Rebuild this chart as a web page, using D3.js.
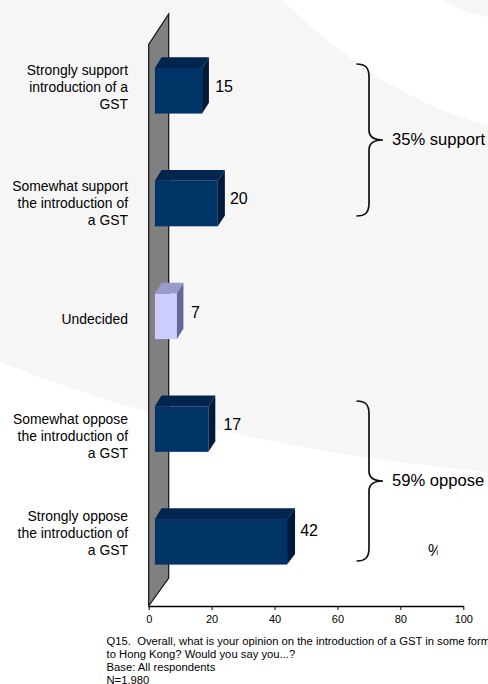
<!DOCTYPE html>
<html><head><meta charset="utf-8">
<script src="https://cdn.jsdelivr.net/npm/d3@7"></script>
<style>html,body{margin:0;padding:0;background:#fff;overflow:hidden}svg{display:block}text{font-family:"Liberation Sans",Arial,sans-serif;fill:#000;white-space:pre}</style>
</head><body><svg id="c" width="488" height="684"></svg>
<script>
const categories = [
  ["Strongly support","introduction of a","GST"],
  ["Somewhat support","the introduction of","a GST"],
  ["Undecided"],
  ["Somewhat oppose","the introduction of","a GST"],
  ["Strongly oppose","the introduction of","a GST"]
];
const values = [15, 20, 7, 17, 42];
const highlight = [false, false, true, false, false];
const tickValues = [0, 20, 40, 60, 80, 100];
const footnotes = [
  "Q15.  Overall, what is your opinion on the introduction of a GST in some form",
  "to Hong Kong? Would you say you...?",
  "Base: All respondents",
  "N=1,980"
];
const bracketLabels = ["35% support", "59% oppose"];

const svg = d3.select("#c");
const bg = "#f6f6f6";
svg.append("path").attr("fill", bg)
  .attr("d", "M0,0 L282,0 C330,46 400,103 488,125 L488,472 C340,458 170,430 0,362 Z");
svg.append("path").attr("fill", bg)
  .attr("d", "M443,0 C457,9 472,14 488,17 L488,0 Z");

const x = d3.scaleLinear().domain([0, 100]).range([148.7, 463.3]);
const axisY = 606, wallDx = 20, wallDy = -28, wallTop = 44.5;

svg.append("path")
  .attr("d", `M${x(0)},${axisY} L${x(0)},${wallTop} L${x(0)+wallDx},14 L${x(0)+wallDx},${axisY+wallDy} Z`)
  .attr("fill", "#808080").attr("stroke", "#111").attr("stroke-width", 1.2);

const y = d3.scaleBand().domain(d3.range(values.length))
  .range([34.4, 598.2]).paddingInner(0.596).paddingOuter(0.298);

const zOff = 6.2, dx = 6.6, dy = -10.7;
const pal = {navy:["#003366","#00264f","#001a3a"], pale:["#ccccff","#9999cc","#666699"]};
// hand placement of the value and category labels, as in the original slide
const valueNudge = [[1,0],[0,0],[2,1],[3,0],[1,-7]];
const labelNudge = [0,3,0,10,-5];

const bars = svg.append("g").selectAll("g").data(values).join("g");
bars.each(function(v, i){
  const g = d3.select(this);
  const c = highlight[i] ? pal.pale : pal.navy;
  const l = x(0) + zOff, r = x(v) + zOff, t = y(i), b = y(i) + y.bandwidth();
  const bx = 6.2 + v*0.043;
  g.append("rect").attr("x", l).attr("y", t).attr("width", r-l).attr("height", b-t).attr("fill", c[0]);
  g.append("path").attr("fill", c[1]).attr("d", `M${l},${t} L${l+dx},${t+dy} L${r+bx},${t+dy} L${r},${t} Z`);
  g.append("path").attr("fill", c[2]).attr("d", `M${r},${t} L${r+bx},${t+dy} L${r+bx},${b+dy} L${r},${b} Z`);
  g.append("text").attr("x", r+dx+5.5+valueNudge[i][0]).attr("y", (t+b)/2+0.8+valueNudge[i][1]).attr("font-size", 16).text(v);
});

svg.append("g").selectAll("text").data(categories).join("text")
  .attr("text-anchor", "end").attr("font-size", 13.9)
  .each(function(lines, i){
    const c = y(i) + y.bandwidth()/2;
    const off = (lines.length === 1 ? 7.5 : 1.5) + labelNudge[i];
    d3.select(this).selectAll("tspan").data(lines).join("tspan")
      .attr("x", 128)
      .attr("y", (d, k) => c + (k-(lines.length-1)/2)*17 + off)
      .text(d => d);
  });

const ax = svg.append("g").attr("transform", `translate(0,${axisY})`)
  .call(d3.axisBottom(x).tickValues(tickValues).tickSize(4).tickPadding(5).tickSizeOuter(0));
ax.select(".domain").attr("stroke", "#000").attr("stroke-width", 1.3);
ax.selectAll(".tick line").attr("stroke", "#000").attr("stroke-width", 1);
ax.selectAll(".tick text").attr("font-size", 11).attr("font-family", '"Liberation Sans",Arial,sans-serif').attr("fill", "#000");

const braceSpans = [[64,140,216],[401,481,561]];
braceSpans.forEach(([top, mid, bottom], i) => {
  const sx = 369, lx = 356.5, tx = 383, r = 10;
  svg.append("path").attr("fill", "none").attr("stroke", "#111").attr("stroke-width", 1.7)
    .attr("d", `M${lx},${top} C${sx-4},${top} ${sx},${top+3} ${sx},${top+r+3}
      L${sx},${mid-r} C${sx},${mid-3} ${sx+5},${mid} ${tx},${mid}
      C${sx+5},${mid} ${sx},${mid+3} ${sx},${mid+r}
      L${sx},${bottom-r-3} C${sx},${bottom-3} ${sx-4},${bottom} ${lx},${bottom}`);
  svg.append("text").attr("x", 392).attr("y", mid+5).attr("font-size", 16.6).text(bracketLabels[i]);
});

svg.append("clipPath").attr("id", "pc").append("rect").attr("x", 420).attr("y", 535).attr("width", 17.6).attr("height", 30);
svg.append("text").attr("x", 428).attr("y", 556).attr("font-size", 16).attr("clip-path", "url(#pc)").text("%");

svg.append("g").selectAll("text").data(footnotes).join("text")
  .attr("x", 106.5).attr("y", (d, i) => 644.5 + i*13).attr("font-size", 11.25).text(d => d);
</script></body></html>
